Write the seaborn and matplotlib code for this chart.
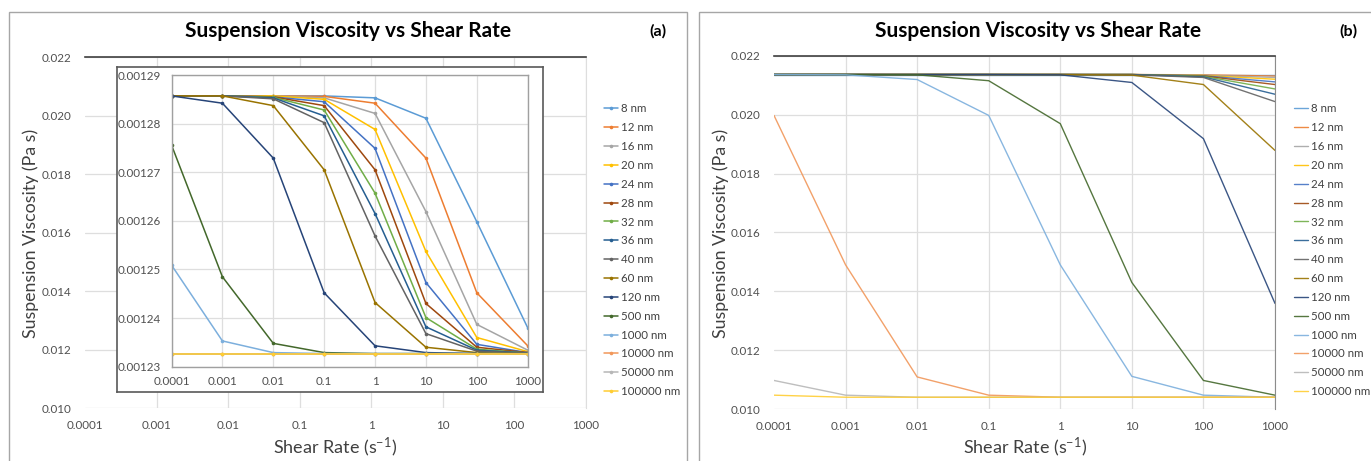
import numpy as np
import pandas as pd
import matplotlib
matplotlib.use("Agg")
import matplotlib.pyplot as plt
import seaborn as sns
from matplotlib.lines import Line2D
from matplotlib.patches import Rectangle
from matplotlib.ticker import FixedLocator, FixedFormatter, NullLocator

# ---------------- data ----------------
shear_rate = [1e-4, 1e-3, 1e-2, 1e-1, 1, 10, 100, 1000]
x_tick_labels = ["0.0001", "0.001", "0.01", "0.1", "1", "10", "100", "1000"]
sizes = ["8 nm", "12 nm", "16 nm", "20 nm", "24 nm", "28 nm", "32 nm", "36 nm",
         "40 nm", "60 nm", "120 nm", "500 nm", "1000 nm", "10000 nm", "50000 nm", "100000 nm"]
colors = ["#5B9BD5", "#ED7D31", "#A5A5A5", "#FFC000", "#4472C4", "#9E480E", "#70AD47", "#255E91",
          "#636363", "#997300", "#264478", "#43682B", "#7CAFDD", "#F1975A", "#B7B7B7", "#FFCD33"]

# panel (a) inset values (Pa s)
a_8 = [0.0012857, 0.0012857, 0.0012857, 0.0012857, 0.0012853, 0.0012811, 0.0012598, 0.0012380]
a_12 = [0.0012857, 0.0012857, 0.0012857, 0.0012856, 0.0012842, 0.0012729, 0.0012452, 0.0012343]
a_16 = [0.0012857, 0.0012857, 0.0012857, 0.0012853, 0.0012821, 0.0012619, 0.0012387, 0.0012334]
a_20 = [0.0012857, 0.0012857, 0.0012857, 0.0012850, 0.0012788, 0.0012537, 0.0012360, 0.0012331]
a_24 = [0.0012857, 0.0012857, 0.0012855, 0.0012845, 0.0012749, 0.0012473, 0.0012346, 0.0012329]
a_28 = [0.0012857, 0.0012857, 0.0012855, 0.0012837, 0.0012705, 0.0012430, 0.0012340, 0.0012329]
a_32 = [0.0012857, 0.0012857, 0.0012854, 0.0012828, 0.0012657, 0.0012401, 0.0012336, 0.0012328]
a_36 = [0.0012857, 0.0012857, 0.0012853, 0.0012816, 0.0012615, 0.0012382, 0.0012334, 0.0012328]
a_40 = [0.0012857, 0.0012857, 0.0012851, 0.0012802, 0.0012569, 0.0012368, 0.0012332, 0.0012328]
a_60 = [0.0012857, 0.0012857, 0.0012837, 0.0012705, 0.0012432, 0.0012340, 0.0012329, 0.0012327]
a_120 = [0.0012857, 0.0012842, 0.0012729, 0.0012452, 0.0012343, 0.0012329, 0.0012327, 0.0012327]
a_500 = [0.0012756, 0.0012485, 0.0012348, 0.0012329, 0.0012327, 0.0012327, 0.0012327, 0.0012327]
a_1000 = [0.0012509, 0.0012353, 0.0012329, 0.0012327, 0.0012327, 0.0012327, 0.0012327, 0.0012327]
a_10000 = [0.0012327, 0.0012327, 0.0012327, 0.0012327, 0.0012327, 0.0012327, 0.0012327, 0.0012327]
a_50000 = [0.0012327, 0.0012327, 0.0012327, 0.0012327, 0.0012327, 0.0012327, 0.0012327, 0.0012327]
a_100000 = [0.0012327, 0.0012327, 0.0012327, 0.0012327, 0.0012327, 0.0012327, 0.0012327, 0.0012327]

# panel (b) values (Pa s)
b_8 = [0.02137, 0.02137, 0.02137, 0.02137, 0.02137, 0.02137, 0.02137, 0.02137]
b_12 = [0.02137, 0.02137, 0.02137, 0.02137, 0.02137, 0.02137, 0.02136, 0.02132]
b_16 = [0.02137, 0.02137, 0.02137, 0.02137, 0.02137, 0.02137, 0.02135, 0.02127]
b_20 = [0.02137, 0.02137, 0.02137, 0.02137, 0.02137, 0.02137, 0.02134, 0.02121]
b_24 = [0.02137, 0.02137, 0.02137, 0.02137, 0.02137, 0.02137, 0.02133, 0.02112]
b_28 = [0.02137, 0.02137, 0.02137, 0.02137, 0.02137, 0.02137, 0.02132, 0.02103]
b_32 = [0.02137, 0.02137, 0.02137, 0.02137, 0.02137, 0.02137, 0.02131, 0.02088]
b_36 = [0.02137, 0.02137, 0.02137, 0.02137, 0.02137, 0.02137, 0.02129, 0.02070]
b_40 = [0.02137, 0.02137, 0.02137, 0.02137, 0.02137, 0.02136, 0.02127, 0.02045]
b_60 = [0.02137, 0.02137, 0.02137, 0.02137, 0.02137, 0.02135, 0.02103, 0.01879]
b_120 = [0.02137, 0.02137, 0.02137, 0.02137, 0.02136, 0.02110, 0.01919, 0.01359]
b_500 = [0.02137, 0.02137, 0.02136, 0.02116, 0.01970, 0.01430, 0.01097, 0.01047]
b_1000 = [0.02137, 0.02136, 0.02120, 0.01998, 0.01490, 0.01111, 0.01047, 0.01040]
b_10000 = [0.01998, 0.01490, 0.01109, 0.01047, 0.01040, 0.01040, 0.01040, 0.01040]
b_50000 = [0.01097, 0.01047, 0.01040, 0.01040, 0.01040, 0.01040, 0.01040, 0.01040]
b_100000 = [0.01047, 0.01040, 0.01040, 0.01040, 0.01040, 0.01040, 0.01040, 0.01040]

outer_y_ticks = [0.010, 0.012, 0.014, 0.016, 0.018, 0.020, 0.022]
outer_y_labels = ["0.010", "0.012", "0.014", "0.016", "0.018", "0.020", "0.022"]
inset_y_ticks = [0.00123, 0.00124, 0.00125, 0.00126, 0.00127, 0.00128, 0.00129]
inset_y_labels = ["0.00123", "0.00124", "0.00125", "0.00126", "0.00127", "0.00128", "0.00129"]

title = "Suspension Viscosity vs Shear Rate"
y_label = "Suspension Viscosity (Pa s)"
x_label = "Shear Rate (s$^{\\mathregular{-1}}$)"

series_a = [a_8, a_12, a_16, a_20, a_24, a_28, a_32, a_36, a_40, a_60, a_120, a_500, a_1000,
            a_10000, a_50000, a_100000]
series_b = [b_8, b_12, b_16, b_20, b_24, b_28, b_32, b_36, b_40, b_60, b_120, b_500, b_1000,
            b_10000, b_50000, b_100000]


def long_frame(series):
    rows = []
    for name, vals in zip(sizes, series):
        for x, v in zip(shear_rate, vals):
            rows.append({"shear": x, "visc": v, "size": name})
    return pd.DataFrame(rows)


df_a = long_frame(series_a)
df_b = long_frame(series_b)
palette = dict(zip(sizes, colors))

# ---------------- style ----------------
sns.set_style("white")
plt.rcParams["font.family"] = ["Lato", "DejaVu Sans"]
plt.rcParams["mathtext.fontset"] = "custom"
plt.rcParams["mathtext.rm"] = "Lato"
plt.rcParams["mathtext.it"] = "Lato:italic"
plt.rcParams["mathtext.bf"] = "Lato:bold"

W, H = 1371, 461
fig = plt.figure(figsize=(W / 100, H / 100), dpi=100)


def rect(l, t, r, b):
    return [l / W, 1 - b / H, (r - l) / W, (b - t) / H]


def fx(px):
    return px / W


def fy(py):
    return 1 - py / H


GRID = "#DEDEDE"
TICKC = "#505050"
TICKFS = 8.4


def setup_axes(ax, yticks, ylabels, xpad, ypad, fs):
    ax.set_xscale("log")
    ax.set_xlim(shear_rate[0], shear_rate[-1])
    ax.xaxis.set_major_locator(FixedLocator(shear_rate))
    ax.xaxis.set_major_formatter(FixedFormatter(x_tick_labels))
    ax.xaxis.set_minor_locator(NullLocator())
    ax.set_ylim(yticks[0], yticks[-1])
    ax.yaxis.set_major_locator(FixedLocator(yticks))
    ax.yaxis.set_major_formatter(FixedFormatter(ylabels))
    ax.yaxis.set_minor_locator(NullLocator())
    ax.tick_params(axis="x", length=0, pad=xpad, labelsize=fs, labelcolor=TICKC)
    ax.tick_params(axis="y", length=0, pad=ypad, labelsize=fs, labelcolor=TICKC)
    ax.grid(True, color=GRID, linewidth=0.9)
    ax.set_axisbelow(True)
    ax.set_xlabel("")
    ax.set_ylabel("")


# ----- panel (a) outer axes -----
ax_a = fig.add_axes(rect(85, 57, 586, 408))
setup_axes(ax_a, outer_y_ticks, outer_y_labels, 8.5, 9.5, TICKFS)
for s in ["left", "bottom"]:
    ax_a.spines[s].set_visible(False)
ax_a.spines["right"].set_color(GRID)
ax_a.spines["top"].set_color("#404040")
ax_a.spines["top"].set_linewidth(1.2)
ax_a.xaxis.get_major_ticks()[0].gridline.set_visible(False)

# inset frame
frame = fig.add_axes(rect(117, 67, 543, 392))
frame.set_zorder(1)
frame.set_xticks([])
frame.set_yticks([])
frame.set_facecolor("white")
for s in frame.spines.values():
    s.set_color("#595959")
    s.set_linewidth(1.2)

# inset axes
ins = fig.add_axes(rect(171.5, 75, 527.7, 366.7))
ins.set_zorder(2)
sns.lineplot(data=df_a, x="shear", y="visc", hue="size", hue_order=sizes, palette=palette,
             ax=ins, legend=False, errorbar=None, estimator=None, linewidth=1.1,
             marker="o", markersize=2.6, markeredgewidth=0)
setup_axes(ins, inset_y_ticks, inset_y_labels, 6.5, 7.5, TICKFS)
for s in ins.spines.values():
    s.set_color("#A0A0A0")
    s.set_linewidth(1.0)

# ----- panel (b) -----
ax_b = fig.add_axes(rect(774, 56, 1275, 409))
sns.lineplot(data=df_b, x="shear", y="visc", hue="size", hue_order=sizes, palette=palette,
             ax=ax_b, legend=False, errorbar=None, estimator=None, linewidth=1.0, alpha=0.9)
setup_axes(ax_b, outer_y_ticks, outer_y_labels, 8.5, 9.5, TICKFS)
for s in ["left", "bottom"]:
    ax_b.spines[s].set_visible(False)
ax_b.spines["right"].set_color("#8C8C8C")
ax_b.spines["top"].set_color("#404040")
ax_b.spines["top"].set_linewidth(1.2)
ax_b.xaxis.get_major_ticks()[0].gridline.set_visible(False)

# ----- legends -----
handles_a = [Line2D([], [], color=c, lw=1.1, marker="o", markersize=2.6, markeredgewidth=0)
             for c in colors]
handles_b = [Line2D([], [], color=c, lw=1.0, alpha=0.9) for c in colors]
for handles, x0 in [(handles_a, 604), (handles_b, 1294)]:
    fig.legend(handles, sizes, loc="upper left", bbox_to_anchor=(fx(x0), fy(103.5)),
               frameon=False, fontsize=8.3, handlelength=1.2, handletextpad=0.25,
               labelspacing=0.68, borderpad=0, borderaxespad=0, labelcolor="#404040")

# ----- texts -----
for dx in [0, 690]:
    fig.text(fx(348 + dx), fy(31), title, ha="center", va="center", fontsize=15,
             fontweight="bold", color="black")
    fig.text(fx(31 + dx), fy(233), y_label, ha="center", va="center", rotation=90,
             fontsize=12.8, color="#404040")
    fig.text(fx(335.5 + dx), fy(447), x_label, ha="center", va="center",
             fontsize=13, color="#404040")
    fig.add_artist(Rectangle((fx(9 + dx), fy(475)), (678) / W, (475 - 12) / H,
                             transform=fig.transFigure, fill=False,
                             edgecolor="#A6A6A6", linewidth=1.0))
fig.text(fx(658), fy(31), "(a)", ha="center", va="center", fontsize=11.5,
         fontweight="bold", color="black")
fig.text(fx(1348), fy(31), "(b)", ha="center", va="center", fontsize=11.5,
         fontweight="bold", color="black")

fig.savefig("out.png", dpi=100)
